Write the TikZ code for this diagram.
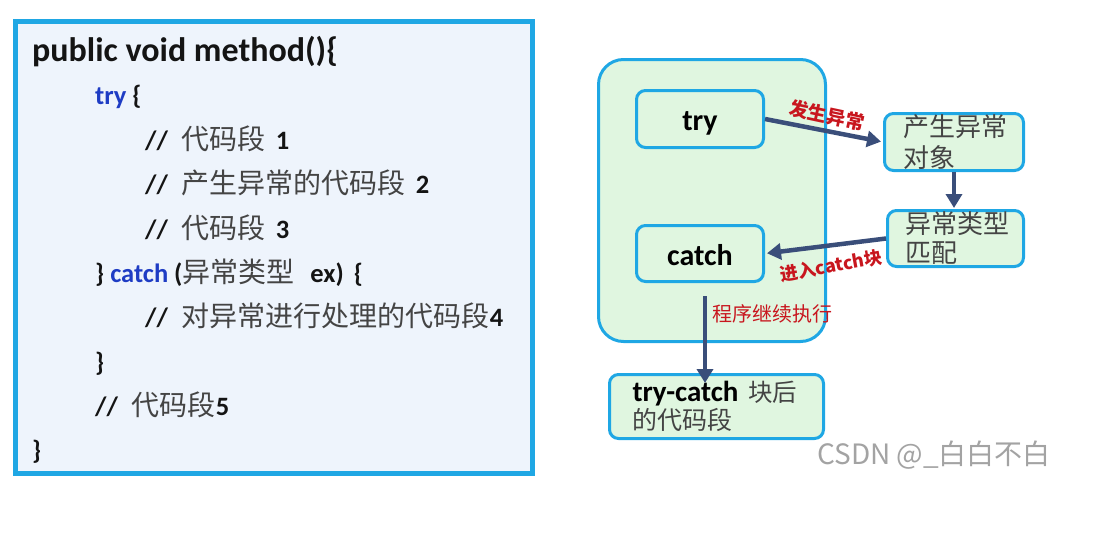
\documentclass[tikz,border=0pt]{standalone}
\usepackage{fontspec}
\setmainfont{Carlito}
\newfontfamily\cjk{Noto Sans CJK SC}
\usetikzlibrary{arrows.meta,calc}
\definecolor{boxblue}{HTML}{1FA7E4}
\definecolor{codebg}{HTML}{EEF4FC}
\definecolor{kw}{HTML}{1E3CC4}
\definecolor{greenfill}{HTML}{E0F6E0}
\definecolor{arrowc}{HTML}{3A4E7A}
\definecolor{redlbl}{HTML}{C8161E}
\definecolor{cjkgray}{HTML}{444444}
\definecolor{wm}{HTML}{A3A3A3}
\newcommand\zh[1]{{\cjk\fontsize{28pt}{30pt}\selectfont\mdseries\color{cjkgray}#1}}
\newcommand\cmtslash{//\hspace{14pt}}
\tikzset{
  code/.style={anchor=base west, inner sep=0pt, font=\fontsize{26.5pt}{30pt}\selectfont\bfseries, text=black!92},
  gbox/.style={draw=boxblue, line width=3pt, fill=greenfill, rounded corners=9pt, inner sep=0pt},
  arr/.style={draw=arrowc, line width=4.5pt, -{Triangle[length=14pt,width=16pt]}},
  lbl/.style={inner sep=0pt, text=redlbl},
}
\begin{document}
\begin{tikzpicture}[x=1pt,y=-1pt]
\useasboundingbox (0,0) rectangle (1093,546);
% ---------- code panel ----------
\node[draw=boxblue, line width=5pt, fill=codebg, minimum width=517pt, minimum height=452pt, inner sep=0pt] (codebox) at (274,247.5) {};
\node[code, font=\fontsize{34pt}{36pt}\selectfont\bfseries] (l1) at (32,61) {public void method()\{};
\node[code] (l2) at (95,104) {\textcolor{kw}{try} \{};
\node[code] (l3) at (145,149.6) {\cmtslash\zh{代码段}\hspace{4pt} 1};
\node[code] (l4) at (145,193.9) {\cmtslash\zh{产生异常的代码段}\hspace{4pt} 2};
\node[code] (l5) at (145,238.2) {\cmtslash\zh{代码段}\hspace{4pt} 3};
\node[code] (l6) at (95,282.5) {\} \textcolor{kw}{catch} (\zh{异常类型}\hspace{16pt}ex)\hspace{10pt}\{};
\node[code] (l7) at (145,326.8) {\cmtslash\zh{对异常进行处理的代码段}4};
\node[code] (l8) at (95,371.1) {\}};
\node[code] (l9) at (95,415.4) {\cmtslash\zh{代码段}5};
\node[code] (l10) at (32,459.7) {\}};
% ---------- flow diagram ----------
\node[draw=boxblue, line width=3pt, fill=greenfill, rounded corners=25pt, minimum width=227pt, minimum height=282pt, inner sep=0pt] (outer) at (712,200.5) {};
\node[gbox, minimum width=127pt, minimum height=57pt, text height=22pt, text depth=0pt, font=\fontsize{30pt}{32pt}\selectfont\bfseries] (try) at (700,119) {try};
\node[gbox, minimum width=127pt, minimum height=56pt, text height=23pt, text depth=0pt, font=\fontsize{30pt}{32pt}\selectfont\bfseries] (catch) at (700,253.5) {catch};
\node[gbox, minimum width=139pt, minimum height=57pt, text width=102pt, align=left,
      font=\cjk\fontsize{26pt}{31pt}\selectfont, text=cjkgray] (exc) at (954,142) {产生异常\\对象};
\node[gbox, minimum width=136pt, minimum height=56pt, text width=101pt, align=left,
      font=\cjk\fontsize{26pt}{29pt}\selectfont, text=cjkgray] (match) at (955.5,238.5) {异常类型\\匹配};
\node[gbox, minimum width=214pt, minimum height=64pt, text width=168pt, align=left,
      font=\fontsize{29pt}{28pt}\selectfont] (after) at (716.5,406.5)
      {\textbf{try-catch} {\cjk\fontsize{24.5pt}{28pt}\selectfont\color{cjkgray}块后}\\{\cjk\fontsize{25pt}{28pt}\selectfont\color{cjkgray}的代码段}};
% arrows
\draw[arr, shorten >=2pt] (try.east) -- (exc.west);
\draw[arr, shorten >=1pt] (exc.south) -- (exc.south |- match.north);
\draw[arr, shorten >=2pt] (match.west) -- (catch.east);
\draw[arr, shorten >=3pt] ([xshift=5pt,yshift=-13pt]catch.south) -- ([xshift=5pt,yshift=-13pt]catch.south |- after.north);
% labels
\node[lbl, rotate=-12, font=\cjk\fontsize{19pt}{20pt}\selectfont\bfseries] (lab1) at (827,115) {发生异常};
\node[lbl, rotate=10, font=\cjk\fontsize{18pt}{20pt}\selectfont\bfseries] (lab2) at (831,266) {进入catch块};
\node[lbl, anchor=west, font=\cjk\fontsize{20pt}{22pt}\selectfont] (lab3) at (712,314) {程序继续执行};
% watermark
\node[anchor=west, inner sep=0pt, text=wm, font=\cjk\fontsize{28pt}{30pt}\selectfont] (wmark) at (817,455) {CSDN @\_白白不白};
\end{tikzpicture}
\end{document}
